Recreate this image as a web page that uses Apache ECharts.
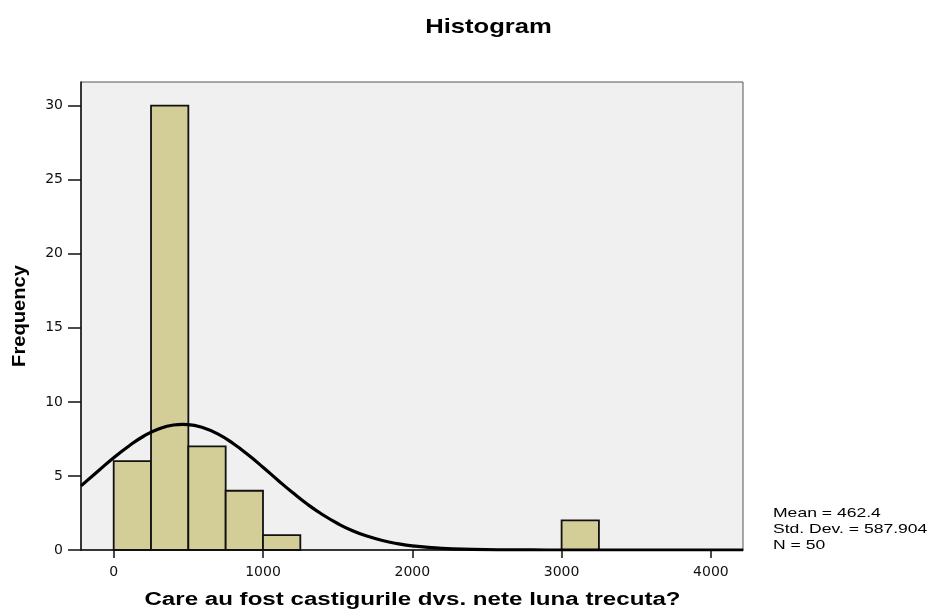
<!DOCTYPE html>
<html>
<head>
<meta charset="utf-8">
<script src="https://cdn.jsdelivr.net/npm/echarts@6/dist/echarts.min.js"></script>
<style>html,body{margin:0;padding:0;background:#fff}#c{width:930px;height:612px}</style>
</head>
<body>
<div id="c"></div>
<script>
// Histogram bins
const binStart = [0, 250, 500, 750, 1000, 3000];
const binEnd = [250, 500, 750, 1000, 1250, 3250];
const counts = [6, 30, 7, 4, 1, 2];
// Normal curve
const curveX = [-219, -100, 0, 100, 200, 300, 400, 462, 500, 600, 700, 800, 900, 1000, 1100, 1200, 1300, 1400, 1500, 1600, 1700, 1800, 1900, 2000, 2200, 2400, 2600, 2800, 3000, 3500, 4215];
const curveY = [4.33, 5.37, 6.23, 7.01, 7.68, 8.17, 8.44, 8.48, 8.47, 8.25, 7.82, 7.19, 6.43, 5.59, 4.71, 3.86, 3.07, 2.38, 1.79, 1.30, 0.93, 0.64, 0.43, 0.28, 0.11, 0.04, 0.01, 0.003, 0.001, 0, 0];
const xTicks = [0, 1000, 2000, 3000, 4000];
const yTicks = [0, 5, 10, 15, 20, 25, 30];
const titleText = 'Histogram';
const xName = 'Care au fost castigurile dvs. nete luna trecuta?';
const yName = 'Frequency';
const statsLines = ['Mean = 462.4', 'Std. Dev. = 587.904', 'N = 50'];

const chart = echarts.init(document.getElementById('c'), null, {renderer: 'canvas'});
const barData = counts.map((c, i) => [binStart[i], binEnd[i], c]);
const curveData = curveX.map((x, i) => [x, curveY[i]]);
const font = 'Liberation Sans, Arial, sans-serif';
const tickFont = 'DejaVu Sans, sans-serif';

function txt(text, x, y, f, sx, rot, align) {
  return {
    type: 'text', x: x, y: y, scaleX: sx, rotation: rot || 0, z: 100,
    style: {text: text, x: 0, y: 0, font: f, fill: '#000',
      align: align || 'center', verticalAlign: 'middle',
      textAlign: align || 'center', textVerticalAlign: 'middle'}
  };
}

const graphics = [
  txt(titleText, 488.5, 27.5, 'bold 21px ' + font, 1.22),
  txt(xName, 412.5, 600, 'bold 18px ' + font, 1.34),
  txt(yName, 19.5, 316, 'bold 19px ' + font, 1.06, Math.PI / 2)
].concat(statsLines.map((t, i) => txt(t, 773, 513 + i * 16, '13px ' + font, 1.35, 0, 'left')));

chart.setOption({
  animation: false,
  backgroundColor: '#ffffff',
  grid: {
    left: 81, top: 82, right: 187, bottom: 62, outerBoundsMode: 'none', containLabel: false,
    show: true, backgroundColor: '#f0f0f0', borderColor: '#555', borderWidth: 1
  },
  xAxis: {
    type: 'value', min: -219, max: 4215,
    axisLine: {show: true, onZero: false, lineStyle: {color: '#111', width: 1.5}},
    axisTick: {show: true, customValues: xTicks, length: 8, lineStyle: {color: '#111', width: 1.5}},
    axisLabel: {customValues: xTicks, formatter: v => String(v), fontFamily: tickFont, fontSize: 14, color: '#111', margin: 15},
    splitLine: {show: false}
  },
  yAxis: {
    type: 'value', min: 0, max: 31.6,
    axisLine: {show: true, onZero: false, lineStyle: {color: '#111', width: 1.5}},
    axisTick: {show: true, customValues: yTicks, length: 13, lineStyle: {color: '#111', width: 1.5}},
    axisLabel: {customValues: yTicks, formatter: v => String(v), fontFamily: tickFont, fontSize: 14, color: '#111', margin: 18},
    splitLine: {show: false}
  },
  series: [
    {
      type: 'custom',
      data: barData,
      encode: {x: [0, 1], y: 2},
      renderItem: function (params, api) {
        const p0 = api.coord([api.value(0), api.value(2)]);
        const p1 = api.coord([api.value(1), 0]);
        return {
          type: 'rect',
          shape: {x: p0[0], y: p0[1], width: p1[0] - p0[0], height: p1[1] - p0[1]},
          style: {fill: '#d3ce97', stroke: '#111', lineWidth: 1.8}
        };
      },
      z: 2
    },
    {
      type: 'line',
      data: curveData,
      smooth: true,
      showSymbol: false,
      clip: true,
      lineStyle: {color: '#000', width: 3.2},
      z: 3
    }
  ],
  graphic: graphics
});
</script>
</body>
</html>
